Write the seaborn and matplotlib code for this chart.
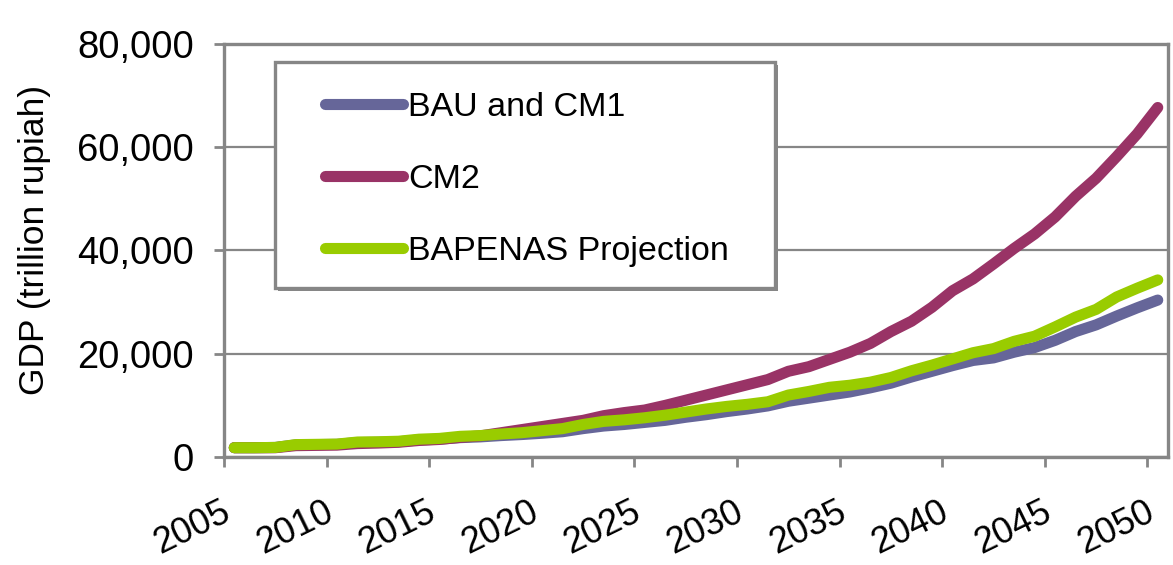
import numpy as np
import pandas as pd
import matplotlib
matplotlib.use("Agg")
import matplotlib.pyplot as plt
import matplotlib.patches as mpatches
import matplotlib.transforms as mtransforms
from matplotlib.ticker import FuncFormatter, FixedLocator
import seaborn as sns

years = list(range(2005, 2051))

bau_cm1 = [1800, 1800, 1850, 2350, 2400, 2450, 2800, 2850, 2950, 3300,
           3450, 3750, 3900, 4150, 4350, 4600, 4900, 5500, 6000, 6300,
           6700, 7100, 7700, 8200, 8800, 9300, 9900, 10800, 11400, 12000,
           12600, 13400, 14300, 15500, 16600, 17700, 18700, 19200, 20300, 21200,
           22600, 24300, 25600, 27300, 28900, 30400]

cm2 = [1800, 1800, 1800, 2200, 2250, 2300, 2600, 2700, 2850, 3200,
       3400, 3800, 4100, 4700, 5300, 5900, 6500, 7100, 8000, 8600,
       9100, 10000, 11000, 12000, 13000, 14000, 15000, 16600, 17500, 18900,
       20300, 22000, 24300, 26300, 29000, 32200, 34500, 37400, 40400, 43200,
       46500, 50500, 54000, 58200, 62600, 67700]

bapenas = [1800, 1800, 1850, 2400, 2450, 2500, 2900, 2950, 3050, 3450,
           3600, 4000, 4150, 4450, 4700, 5100, 5500, 6300, 6900, 7200,
           7600, 8100, 8700, 9300, 9800, 10200, 10700, 12000, 12700, 13500,
           13900, 14500, 15400, 16700, 17800, 19000, 20200, 21000, 22400, 23400,
           25200, 27100, 28600, 31000, 32700, 34300]

series_names = ["BAU and CM1", "CM2", "BAPENAS Projection"]
series_colors = ["#666699", "#993366", "#99CC00"]

y_ticks = [0, 20000, 40000, 60000, 80000]
x_tick_labels = ["2005", "2010", "2015", "2020", "2025", "2030", "2035", "2040", "2045", "2050"]
y_label = "GDP (trillion rupiah)"

df = pd.DataFrame({
    "Year": years * 3,
    "GDP": bau_cm1 + cm2 + bapenas,
    "Scenario": [series_names[0]] * len(years) + [series_names[1]] * len(years) + [series_names[2]] * len(years),
})

sns.set_theme(style="white")
plt.rcParams["font.family"] = ["Liberation Sans", "DejaVu Sans"]
plt.rcParams["text.color"] = "black"
plt.rcParams["axes.labelcolor"] = "black"

fig = plt.figure(figsize=(11.73, 5.65), dpi=100)
ax = fig.add_axes([224 / 1173, 1 - 457 / 565, (1168 - 224) / 1173, (457 - 44) / 565])

palette = dict(zip(series_names, series_colors))
sns.lineplot(data=df, x="Year", y="GDP", hue="Scenario", hue_order=series_names,
             palette=palette, linewidth=8, solid_capstyle="round", ax=ax, legend=True)

grey = "#868686"
ax.set_xlim(2004.5, 2050.5)
ax.set_ylim(0, 80000)
ax.yaxis.set_major_locator(FixedLocator(y_ticks))
ax.yaxis.set_major_formatter(FuncFormatter(lambda v, p: f"{int(v):,}"))
ax.grid(axis="y", color=grey, linewidth=1.6)
ax.grid(axis="x", visible=False)
ax.set_axisbelow(True)

for s in ax.spines.values():
    s.set_color(grey)
    s.set_linewidth(2.4)
    s.set_visible(True)

# x: labels at category centres, tick marks at category boundaries
ax.set_xticks([int(t) for t in x_tick_labels])
ax.set_xticklabels(x_tick_labels, rotation=26, ha="right", va="top", rotation_mode="anchor")
ax.set_xticks(np.arange(2004.5, 2050, 5), minor=True)
ax.tick_params(axis="x", which="major", length=0, pad=27, labelsize=26, labelcolor="black")
ax.tick_params(axis="x", which="minor", bottom=True, length=7.5, width=2, color=grey, direction="out")
ax.tick_params(axis="y", which="major", left=True, length=7.5, width=2, color=grey, direction="out",
               labelsize=27.5, labelcolor="black", pad=14)
offset = mtransforms.ScaledTranslation(-13.5 / 100, 0, fig.dpi_scale_trans)
for lab in ax.get_xticklabels():
    lab.set_transform(lab.get_transform() + offset)

ax.set_xlabel("")
ax.set_ylabel(y_label, fontsize=25.5, color="black")
ax.yaxis.set_label_coords(-0.183, (457 - 240) / 413)

# legend with manual frame
old = ax.get_legend()
handles = list(old.legend_handles)
labels = [t.get_text() for t in old.get_texts()]
old.remove()

shadow = mpatches.Rectangle((0.054 + 0.003, 0.409 - 0.006), 0.530, 0.547, transform=ax.transAxes,
                            facecolor=grey, edgecolor="none", zorder=4)
frame = mpatches.Rectangle((0.054, 0.409), 0.530, 0.547, transform=ax.transAxes,
                           facecolor="white", edgecolor=grey, linewidth=2.4, zorder=5)
ax.add_patch(shadow)
ax.add_patch(frame)

leg = ax.legend(handles, labels, loc="upper left", bbox_to_anchor=(0.107, 0.884),
                frameon=False, fontsize=24.5, handlelength=2.3, handletextpad=0.15,
                labelspacing=1.2, borderpad=0, borderaxespad=0)
leg.set_zorder(6)
for h in leg.legend_handles:
    h.set_linewidth(8)
    h.set_solid_capstyle("round")

fig.savefig("out.png", dpi=100)
